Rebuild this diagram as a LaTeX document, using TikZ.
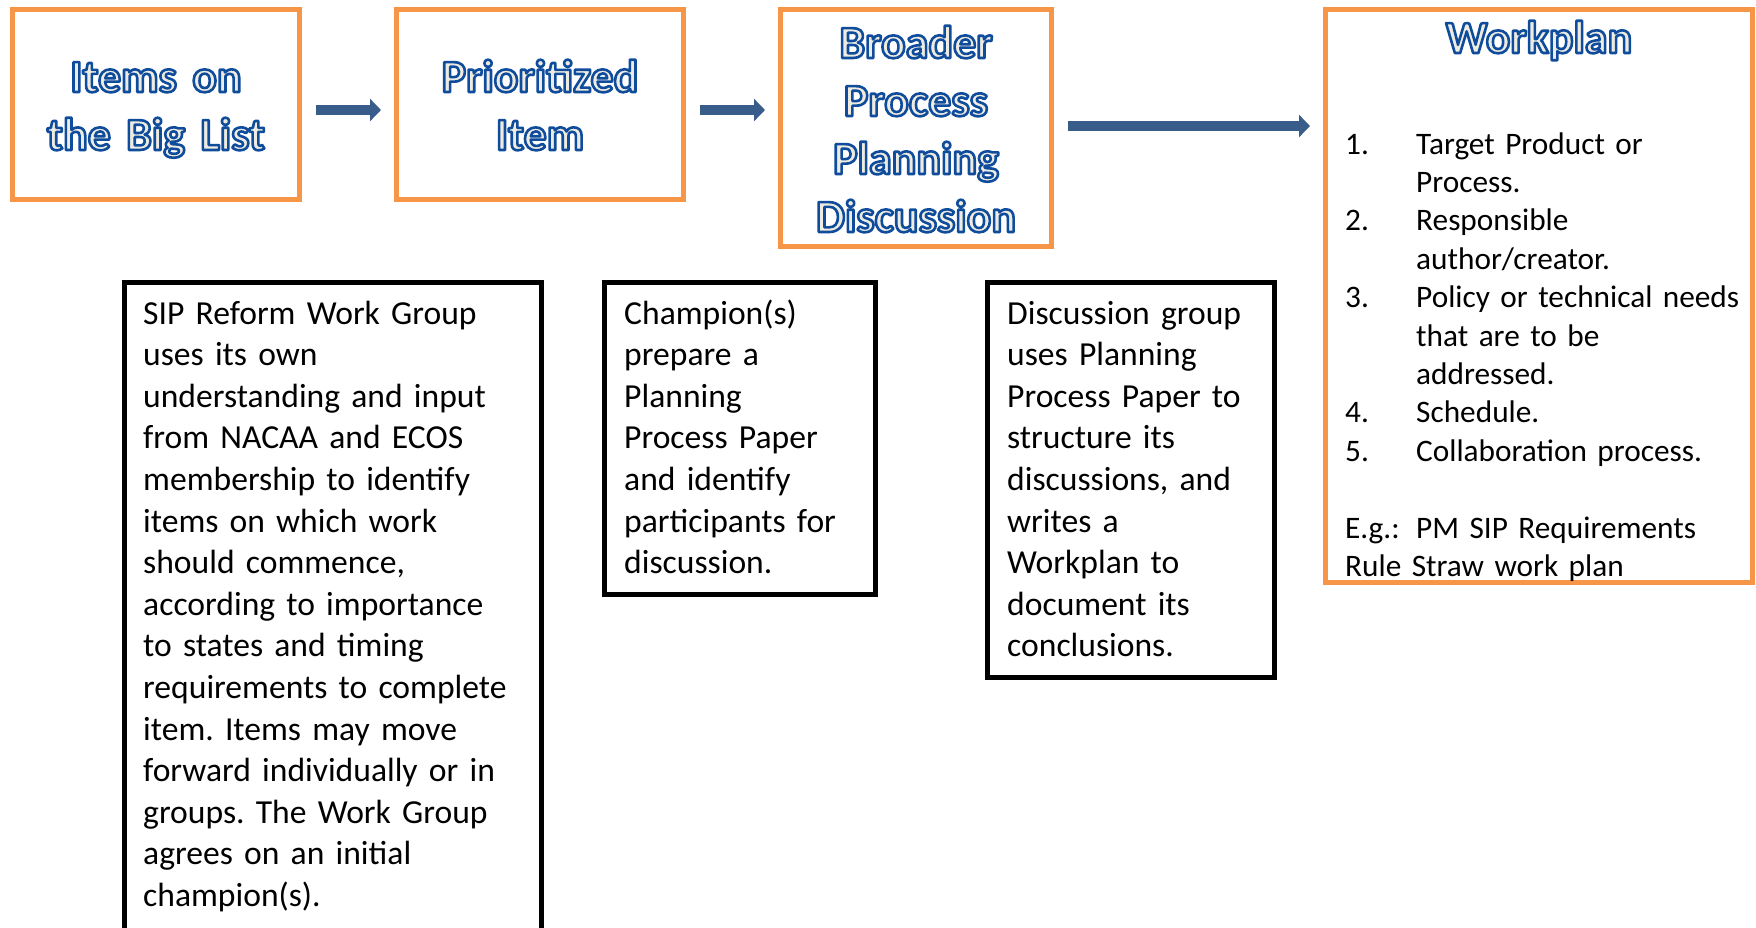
\documentclass[tikz,border=0pt]{standalone}
\usepackage{fontspec}
\setmainfont{Carlito}
\usetikzlibrary{arrows.meta}
\definecolor{orng}{RGB}{247,150,70}
\definecolor{arrblue}{RGB}{56,93,138}
\definecolor{olblue}{RGB}{16,76,156}
\definecolor{cream}{RGB}{238,236,225}
\frenchspacing
\newcommand{\olt}[1]{{\color{cream}\special{pdf:literal direct 2 Tr 2.6 w 1 j 0.063 0.298 0.612 RG}#1\special{pdf:literal direct 0 Tr}}}
\newcommand{\wpn}[1]{\makebox[71pt][l]{#1}}
\begin{document}
\begin{tikzpicture}[x=1pt,y=-1pt,
  hdr/.style={draw=orng, line width=5pt, fill=white, inner sep=0pt},
  desc/.style={draw=black, line width=5pt, inner sep=0pt},
  bigarrow/.style={draw=arrblue, line width=10pt, -{Triangle[width=22pt,length=11pt]}, shorten <=13.5pt, shorten >=13pt},
  htext/.style={font={\bfseries\fontsize{46}{58}\selectfont}, align=center, text width=300pt, anchor=base, inner sep=0pt},
  btext/.style={font={\fontsize{33.6}{41.6}\selectfont\frenchspacing}, align=left, text width=420pt, anchor=base west, inner sep=0pt},
  wtext/.style={font={\fontsize{31.3}{38.4}\selectfont\frenchspacing}, align=left, text width=420pt, anchor=base west, inner sep=0pt},
]
\useasboundingbox (0,0) rectangle (1756,927);
\clip (0,0) rectangle (1756,927);

% header boxes
\node[hdr, minimum width=287pt, minimum height=190pt] (b1) at (156,104.5) {};
\node[hdr, minimum width=287pt, minimum height=190pt] (b2) at (540,104.5) {};
\node[hdr, minimum width=271pt, minimum height=237pt] (b3) at (916,128) {};
\node[hdr, minimum width=427pt, minimum height=573pt] (b4) at (1539,296) {};

% description boxes
\node[desc, minimum width=417pt, minimum height=667.5pt] (dA) at (332.5,616.25) {};
\node[desc, minimum width=271.5pt, minimum height=312pt] (dB) at (739.75,438.5) {};
\node[desc, minimum width=286.5pt, minimum height=394.5pt] (dC) at (1130.75,479.75) {};

% arrows
\draw[bigarrow] (b1.east |- 0,110) -- (b2.west |- 0,110);
\draw[bigarrow] (b2.east |- 0,110) -- (b3.west |- 0,110);
\draw[bigarrow] (b3.east |- 0,126) -- (b4.west |- 0,126);

% header texts
\node[htext] (t1) at (156,92) {\olt{Items on}\\\olt{the Big List}};
\node[htext] (t2) at (540,92) {\olt{Prioritized}\\\olt{Item}};
\node[htext] (t3) at (916,58) {\olt{Broader}\\\olt{Process}\\\olt{Planning}\\\olt{Discussion}};
\node[htext] (t4) at (1539,53) {\olt{Workplan}};

% body texts
\node[btext] (xA) at (143,324) {SIP Reform Work Group\\
uses its own\\
understanding and input\\
from NACAA and ECOS\\
membership to identify\\
items on which work\\
should commence,\\
according to importance\\
to states and timing\\
requirements to complete\\
item. Items may move\\
forward individually or in\\
groups. The Work Group\\
agrees on an initial\\
champion(s).};

\node[btext] (xB) at (624,324) {Champion(s)\\
prepare a\\
Planning\\
Process Paper\\
and identify\\
participants for\\
discussion.};

\node[btext] (xC) at (1007,324) {Discussion group\\
uses Planning\\
Process Paper to\\
structure its\\
discussions, and\\
writes a\\
Workplan to\\
document its\\
conclusions.};

\node[wtext] (xW) at (1345,154) {\wpn{1.}Target Product or\\
\wpn{}Process.\\
\wpn{2.}Responsible\\
\wpn{}author/creator.\\
\wpn{3.}Policy or technical needs\\
\wpn{}that are to be\\
\wpn{}addressed.\\
\wpn{4.}Schedule.\\
\wpn{5.}Collaboration process.\\
\mbox{}\\
\wpn{E.g.:}PM SIP Requirements\\
Rule Straw work plan};
\end{tikzpicture}
\end{document}
